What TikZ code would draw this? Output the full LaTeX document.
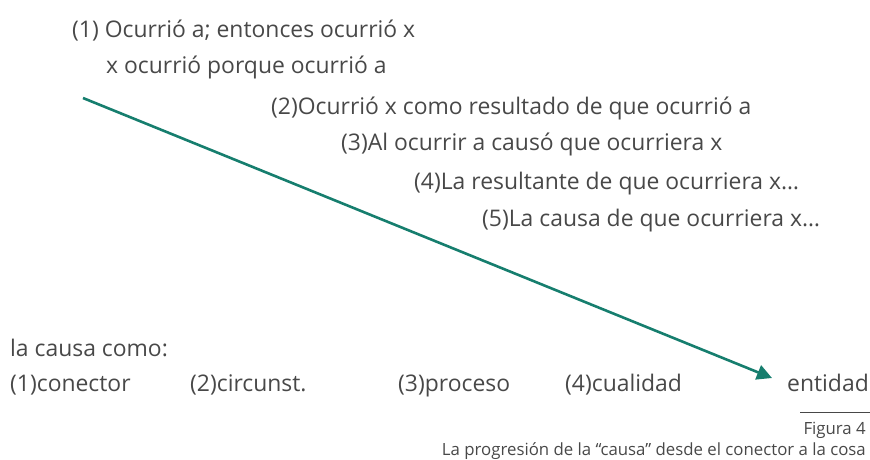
\documentclass[tikz,border=0pt]{standalone}
\usepackage{fontspec}
\setmainfont{Open Sans}
\usetikzlibrary{arrows.meta}
\definecolor{txt}{HTML}{484848}
\definecolor{teal}{HTML}{167E6E}
\begin{document}
\begin{tikzpicture}[x=1pt,y=-1pt,
  lbl/.style={anchor=base west,inner sep=0pt,text=txt,font=\fontsize{22.9}{26}\selectfont},
  captxt/.style={anchor=base east,inner sep=0pt,text=txt,font=\fontsize{16.8}{19}\selectfont},
  arr/.style={draw=teal,line width=2.6pt,-{Triangle[length=15pt,width=15pt]}}]
\useasboundingbox (0,0) rectangle (870,459);
\node[lbl] (t1) at (72,37) {(1) Ocurrió a; entonces ocurrió x};
\node[lbl] (t1b) at (106,73) {x ocurrió porque ocurrió a};
\node[lbl] (t2) at (271,114) {(2)Ocurrió x como resultado de que ocurrió a};
\node[lbl] (t3) at (341,150) {(3)Al ocurrir a causó que ocurriera x};
\node[lbl] (t4) at (414,189) {(4)La resultante de que ocurriera x…};
\node[lbl] (t5) at (482,226) {(5)La causa de que ocurriera x…};
\node[lbl] (lc) at (10,356) {la causa como:};
\node[lbl] (c1) at (10,391.5) {(1)conector};
\node[lbl] (c2) at (190,391.5) {(2)circunst.};
\node[lbl] (c3) at (398,391.5) {(3)proceso};
\node[lbl] (c4) at (565,391.5) {(4)cualidad};
\node[lbl] (c5) at (787,391.5) {entidad};
\coordinate (a0) at (83,98);
\coordinate (a1) at (772,378);
\draw[arr] (a0) -- (a1);
\coordinate (r0) at (800,412);
\coordinate (r1) at (870,412);
\draw[txt,line width=1pt] (r0) -- (r1);
\node[captxt] (f4) at (866,434) {Figura 4};
\node[captxt] (fc) at (866,455) {La progresión de la “causa” desde el conector a la cosa};
\end{tikzpicture}
\end{document}
